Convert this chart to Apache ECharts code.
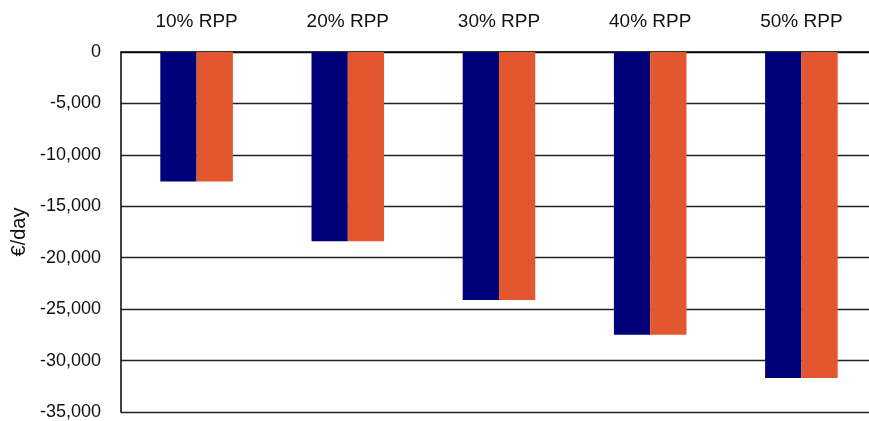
<!DOCTYPE html>
<html>
<head>
<meta charset="utf-8">
<title>RPP cost per day</title>
<script src="https://cdn.jsdelivr.net/npm/echarts@6/dist/echarts.min.js"></script>
<style>
  html, body { margin: 0; padding: 0; background: #fff; overflow: hidden; }
  /* plot runs slightly past the right edge of the window */
  #chart { width: 877px; height: 421px; }
</style>
</head>
<body>
<div id="chart"></div>
<script>
// Categories along the top axis
const categories = ['10% RPP', '20% RPP', '30% RPP', '40% RPP', '50% RPP'];
// Daily cost in €/day for each scenario
const seriesA = [-12600, -18400, -24100, -27500, -31700];
const seriesB = [-12600, -18400, -24100, -27500, -31700];
// Value axis range and step
const yMin = -35000;
const yMax = 0;
const yStep = 5000;

const FONT = 'Liberation Sans';
const chart = echarts.init(document.getElementById('chart'));
chart.setOption({
  animation: false,
  grid: { left: 121, right: 0, top: 52, bottom: 7 },
  xAxis: {
    type: 'category',
    position: 'top',
    data: categories,
    axisLine: { show: true, lineStyle: { color: '#000', width: 1.5 } },
    axisTick: { show: false },
    axisLabel: { color: '#111', fontFamily: FONT, fontSize: 19, margin: 21 },
    splitLine: { show: false }
  },
  yAxis: {
    type: 'value',
    min: yMin,
    max: yMax,
    interval: yStep,
    name: '€/day',
    nameLocation: 'middle',
    nameGap: 92,
    nameRotate: 90,
    nameTextStyle: { color: '#111', fontFamily: FONT, fontSize: 20 },
    axisLine: { show: true, lineStyle: { color: '#000', width: 1.5 } },
    axisTick: { show: false },
    axisLabel: { color: '#111', fontFamily: FONT, fontSize: 18, margin: 20 },
    splitLine: { show: true, lineStyle: { color: '#222', width: 1.3 } }
  },
  series: [
    {
      name: 'A',
      type: 'bar',
      data: seriesA,
      barWidth: '24%',
      barGap: '0%',
      itemStyle: { color: '#000078' }
    },
    {
      name: 'B',
      type: 'bar',
      data: seriesB,
      barWidth: '24%',
      barGap: '0%',
      itemStyle: { color: '#e2572f' }
    }
  ]
});
</script>
</body>
</html>
